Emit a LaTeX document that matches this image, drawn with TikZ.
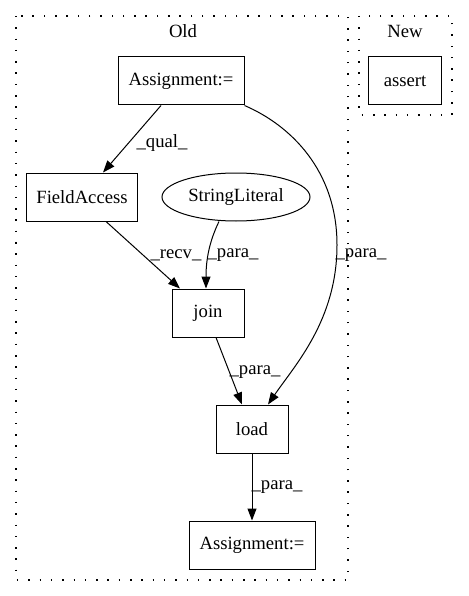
\documentclass[tikz,border=0pt]{standalone}
\usepackage{fontspec}
\setmainfont{Liberation Serif}
\usetikzlibrary{arrows.meta,shapes.geometric}
\begin{document}
\begin{tikzpicture}[x=1pt,y=-1pt,
  every node/.style={font=\fontsize{18.67}{22}\selectfont},
  box/.style={draw,line width=1pt,inner sep=0pt},
  cluster/.style={draw,line width=1.3pt,dash pattern=on 1.5pt off 9.8pt},
  edge/.style={line width=1pt,-{Triangle[length=12pt,width=9pt]}},
  lbl/.style={inner sep=0pt}]
\useasboundingbox (0,0) rectangle (468,596);
\draw[cluster] (16,16) rectangle (348,580);
\draw[cluster] (359,16) rectangle (452,115);
\node[lbl] (old) at (183,31) {Old};
\node[lbl] (new) at (405,31) {New};
\node[box,minimum width=126pt,minimum height=48pt] (a1) at (181,81) {Assignment:=};
\node[box,minimum width=73pt,minimum height=48pt] (as) at (405,81) {assert};
\node[box,minimum width=111pt,minimum height=48pt] (fa) at (82,197) {FieldAccess};
\node[draw,line width=1pt,ellipse,inner sep=0pt,minimum width=148pt,minimum height=48pt] (sl) at (236,197) {StringLiteral};
\node[box,minimum width=72pt,minimum height=48pt] (jn) at (208,313) {join};
\node[box,minimum width=72pt,minimum height=48pt] (ld) at (252,429) {load};
\node[box,minimum width=126pt,minimum height=48pt] (a2) at (252,545) {Assignment:=};
\coordinate (c1) at (337,245);
\draw[edge] ([xshift=-20pt]a1.south) -- ([xshift=21pt]fa.north);
\draw[edge] ([xshift=24pt]fa.south) -- ([xshift=-28pt]jn.north);
\draw[edge] ([xshift=-17pt]sl.south) .. controls (210,240) and (206,258) .. ([xshift=-2pt]jn.north);
\draw[line width=1pt] (a1.south east) .. controls (290,125) and (337,170) .. (c1);
\draw[edge] (c1) .. controls (337,320) and (295,365) .. ([xshift=16pt]ld.north);
\draw[edge] ([xshift=8pt]jn.south) -- ([xshift=-10pt]ld.north);
\draw[edge] (ld.south) -- (a2.north);
\node[lbl] (l1) at (162,143) {\_qual\_};
\node[lbl] (l2) at (176,255) {\_recv\_};
\node[lbl] (l3) at (233,255) {\_para\_};
\node[lbl] (l4) at (361,255) {\_para\_};
\node[lbl] (l5) at (255,372) {\_para\_};
\node[lbl] (l6) at (277,487) {\_para\_};
\end{tikzpicture}
\end{document}
